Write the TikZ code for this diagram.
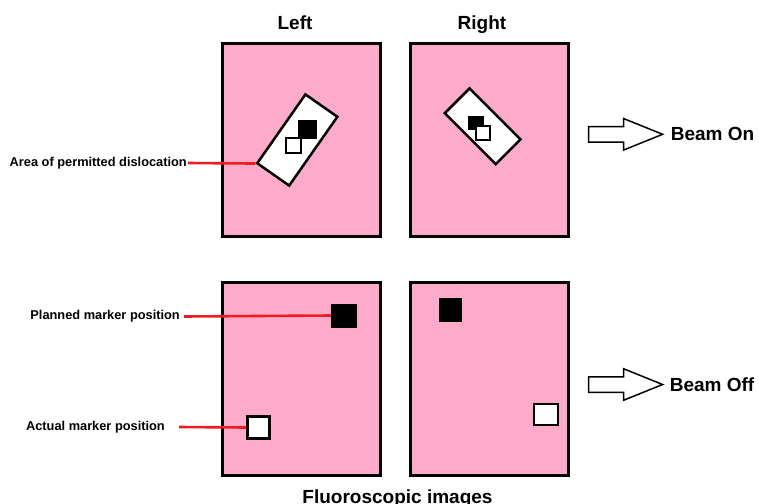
\documentclass[tikz,border=0pt]{standalone}
\usepackage{fontspec}
\setmainfont{Liberation Sans}
\usetikzlibrary{positioning,shapes.arrows}
\definecolor{fluoropink}{RGB}{255,171,201}
\definecolor{pointred}{RGB}{237,28,36}
\tikzset{panel/.style={draw, line width=3pt, fill=fluoropink, minimum width=158pt, minimum height=193pt, inner sep=0pt}}
\tikzset{window/.style={draw, line width=2.5pt, fill=white, inner sep=0pt}}
\tikzset{planned/.style={fill=black, inner sep=0pt}}
\tikzset{actual/.style={draw, line width=2.2pt, fill=white, inner sep=0pt}}
\tikzset{pointer/.style={draw=pointred, line width=2.6pt}}
\tikzset{lbl/.style={font=\bfseries\fontsize{12.8}{14}\selectfont, inner sep=1pt}}
\tikzset{big/.style={font=\bfseries\fontsize{19}{22}\selectfont, inner sep=0pt}}
\tikzset{beam/.style={single arrow, draw, line width=1.5pt, fill=white, inner xsep=0pt, inner ysep=7pt, minimum height=74pt, single arrow head extend=8pt, single arrow tip angle=44}}

\begin{document}
\begin{tikzpicture}[x=1pt,y=-1pt]
\useasboundingbox (0,0) rectangle (759,503);
% fluoroscopic images
\node (tl) at (301.5,140) [panel] {};
\node (tr) at (489,140) [panel] {};
\node (bl) at (301,378.5) [panel] {};
\node (br) at (489,378.5) [panel] {};
\node (tleft) at (295,30) [big, anchor=base] {Left};
\node (tright) at (482,30) [big, anchor=base] {Right};
\node (tfluoro) at (397.5,503) [big, anchor=base] {Fluoroscopic images};
% beam on: permitted area
\node (dis1) at (297.3,140) [window, minimum width=84pt, minimum height=39pt, rotate=55] {};
\node (dis2) at (482.6,126.3) [window, minimum width=72pt, minimum height=35pt, rotate=-45] {};
\node (pl1) at (307.3,129.2) [planned, minimum size=19pt] {};
\node (ac1) at (293.7,145.8) [actual, minimum size=15pt] {};
\node (pl2) at (476,122.8) [planned, minimum width=16pt, minimum height=14.5pt] {};
\node (ac2) at (483,133.3) [actual, minimum size=14pt] {};
% beam off
\node (pl3) at (344,315.5) [planned, minimum width=26pt, minimum height=24pt] {};
\node (ac3) at (258.5,427.5) [actual, minimum size=22pt] {};
\node (pl4) at (450.8,310.3) [planned, minimum width=23pt, minimum height=24pt] {};
\node (ac4) at (545.7,414.7) [actual, minimum width=24pt, minimum height=21pt] {};
% arrows
\node (arron) at (616,134.3) [beam] {};
\node (txton) [big, right=6pt of arron] {Beam On};
\node (arroff) at (616,384.5) [beam] {};
\node (txtoff) [big, right=5pt of arroff] {Beam Off};
% labels
\node (lbldis) at (188,163) [lbl, anchor=east] {Area of permitted dislocation};
\node (lblpl) at (181,316.5) [lbl, anchor=east] {Planned marker position};
\node (lblac) at (166,427) [lbl, anchor=east] {Actual marker position};
\draw[pointer] (lbldis.east) -- (dis1.north west);
\draw[pointer] ([xshift=3pt]lblpl.east) -- (pl3.west);
\draw[pointer] ([xshift=13pt]lblac.east) -- (ac3.west);
\end{tikzpicture}
\end{document}
